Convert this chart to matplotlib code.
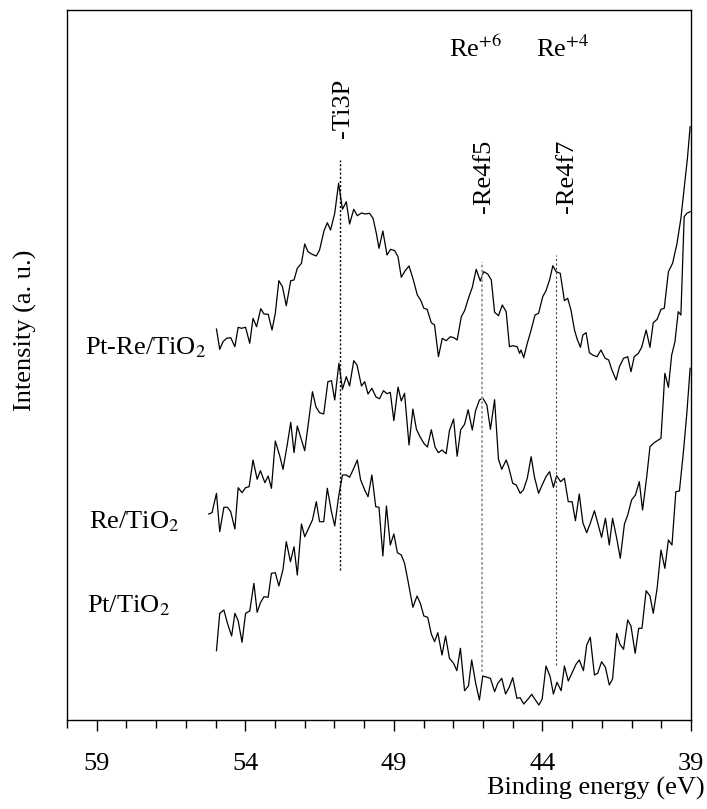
import matplotlib
matplotlib.use("Agg")
import matplotlib.pyplot as plt
from matplotlib.ticker import MultipleLocator, FixedLocator

plt.rcParams['font.family'] = ['Liberation Serif', 'DejaVu Serif']
plt.rcParams['mathtext.fontset'] = 'stix'

# ---------------- data (binding energy in eV, intensity in a.u.) ----------------
ptre_ev = [54.97, 54.86, 54.75, 54.63, 54.49, 54.35, 54.24, 54.13, 53.99, 53.85,
           53.74, 53.62, 53.48, 53.37, 53.23, 53.10, 52.99, 52.87, 52.75, 52.62,
           52.47, 52.36, 52.25, 52.11, 52.00, 51.89, 51.75, 51.61, 51.50, 51.35,
           51.24, 51.13, 50.99, 50.86, 50.73, 50.60, 50.49, 50.35, 50.23, 50.09,
           49.96, 49.82, 49.70, 49.59, 49.50, 49.37, 49.23, 49.11, 48.97, 48.86,
           48.75, 48.62, 48.49, 48.36, 48.21, 48.10, 47.99, 47.88, 47.74, 47.63,
           47.50, 47.37, 47.24, 47.10, 46.98, 46.87, 46.73, 46.62, 46.49, 46.36,
           46.23, 46.09, 45.98, 45.84, 45.72, 45.61, 45.48, 45.35, 45.22, 45.11,
           45.00, 44.85, 44.77, 44.72, 44.63, 44.51, 44.38, 44.25, 44.13, 43.99,
           43.88, 43.76, 43.65, 43.54, 43.40, 43.26, 43.15, 43.04, 42.92, 42.83,
           42.72, 42.64, 42.53, 42.42, 42.31, 42.16, 42.03, 41.89, 41.77, 41.67,
           41.52, 41.41, 41.27, 41.13, 41.02, 40.91, 40.77, 40.66, 40.51, 40.38,
           40.27, 40.14, 40.01, 39.90, 39.76, 39.62, 39.47, 39.34, 39.23, 39.12,
           39.03]
ptre_int = [391.0, 370.7, 378.3, 381.7, 382.3, 373.3, 392.7, 391.7, 392.7, 376.7,
            401.7, 393.3, 411.3, 406.0, 405.7, 390.0, 406.7, 439.3, 433.3, 414.3,
            439.3, 440.0, 451.7, 456.7, 476.0, 468.3, 465.7, 464.0, 470.0, 489.3,
            497.3, 490.0, 506.7, 536.7, 510.7, 518.3, 496.0, 510.7, 504.3, 507.0,
            506.0, 506.7, 501.7, 486.7, 471.7, 489.0, 465.0, 470.7, 469.3, 463.3,
            442.7, 449.3, 454.0, 441.7, 425.0, 420.0, 411.7, 410.7, 397.3, 395.0,
            363.3, 381.7, 379.3, 383.3, 382.3, 380.0, 403.3, 409.3, 421.7, 432.7,
            450.7, 439.0, 448.3, 446.0, 440.0, 407.7, 404.3, 415.0, 408.3, 373.3,
            374.3, 373.3, 366.7, 370.0, 362.3, 376.7, 390.0, 405.0, 406.7, 423.3,
            429.3, 440.0, 454.3, 448.3, 446.7, 419.3, 421.7, 410.0, 390.0, 380.7,
            372.7, 385.0, 387.3, 367.3, 365.0, 363.3, 370.0, 361.7, 360.0, 350.7,
            340.0, 353.3, 361.7, 363.3, 348.3, 363.3, 366.7, 372.7, 390.0, 372.7,
            397.3, 400.7, 410.7, 411.7, 448.3, 456.7, 476.7, 501.7, 531.7, 561.7,
            593.3]

re_ev = [55.23, 55.12, 54.97, 54.86, 54.72, 54.60, 54.49, 54.35, 54.24, 54.11,
         53.99, 53.87, 53.74, 53.60, 53.49, 53.34, 53.23, 53.12, 52.99, 52.84,
         52.73, 52.59, 52.47, 52.36, 52.25, 52.11, 52.00, 51.87, 51.74, 51.62,
         51.50, 51.36, 51.22, 51.10, 50.99, 50.85, 50.73, 50.60, 50.49, 50.35,
         50.24, 50.09, 49.98, 49.87, 49.74, 49.60, 49.48, 49.35, 49.23, 49.12,
         49.00, 48.86, 48.75, 48.64, 48.49, 48.36, 48.24, 48.11, 47.99, 47.87,
         47.74, 47.61, 47.50, 47.38, 47.24, 47.13, 46.99, 46.87, 46.75, 46.62,
         46.50, 46.36, 46.25, 46.12, 46.01, 45.87, 45.75, 45.61, 45.48, 45.37,
         45.22, 45.14, 45.00, 44.88, 44.75, 44.64, 44.51, 44.38, 44.27, 44.13,
         44.01, 43.88, 43.76, 43.63, 43.52, 43.39, 43.26, 43.13, 43.00, 42.89,
         42.76, 42.64, 42.51, 42.39, 42.25, 42.14, 42.01, 41.88, 41.75, 41.64,
         41.50, 41.38, 41.24, 41.13, 41.00, 40.87, 40.74, 40.63, 40.49, 40.38,
         40.24, 40.01, 39.88, 39.76, 39.65, 39.54, 39.43, 39.34, 39.23, 39.14,
         39.03]
re_int = [206.0, 207.3, 226.7, 188.3, 212.7, 212.7, 208.3, 191.0, 232.3, 227.3,
          232.3, 233.3, 260.0, 240.7, 249.3, 237.3, 244.0, 231.7, 279.0, 264.0,
          250.7, 275.0, 297.7, 267.3, 294.0, 280.0, 269.3, 298.3, 328.3, 313.0,
          307.3, 306.0, 338.3, 339.3, 320.0, 356.7, 330.7, 343.3, 334.0, 359.3,
          355.0, 334.0, 338.3, 326.0, 331.7, 323.0, 321.3, 329.3, 326.3, 327.7,
          299.3, 333.0, 319.0, 326.7, 275.0, 311.0, 290.7, 282.7, 276.7, 273.0,
          290.3, 272.7, 267.3, 270.0, 266.3, 289.3, 301.0, 263.7, 290.3, 295.7,
          310.3, 290.0, 309.3, 320.0, 322.0, 315.0, 290.7, 320.3, 261.0, 250.7,
          260.0, 253.3, 236.7, 235.0, 226.7, 230.0, 241.7, 263.3, 243.3, 226.7,
          235.0, 243.3, 248.3, 232.7, 244.3, 238.3, 241.7, 218.3, 218.3, 199.3,
          226.0, 197.3, 187.3, 196.7, 209.3, 197.3, 182.7, 201.7, 175.0, 201.7,
          181.7, 161.7, 196.0, 205.0, 220.0, 225.0, 238.3, 210.0, 243.3, 273.3,
          277.3, 281.7, 346.7, 332.7, 365.0, 378.3, 408.3, 405.0, 503.3, 506.7,
          508.3]

pt_ev = [54.97, 54.86, 54.72, 54.60, 54.46, 54.35, 54.24, 54.11, 53.99, 53.85,
         53.71, 53.60, 53.49, 53.37, 53.23, 53.12, 52.99, 52.87, 52.73, 52.62,
         52.48, 52.36, 52.25, 52.11, 52.00, 51.87, 51.74, 51.61, 51.50, 51.36,
         51.24, 51.10, 50.99, 50.86, 50.73, 50.60, 50.49, 50.35, 50.23, 50.12,
         49.98, 49.87, 49.74, 49.61, 49.50, 49.37, 49.25, 49.12, 49.00, 48.88,
         48.75, 48.64, 48.53, 48.36, 48.22, 48.11, 47.99, 47.86, 47.74, 47.63,
         47.52, 47.38, 47.26, 47.13, 46.99, 46.88, 46.76, 46.62, 46.49, 46.38,
         46.25, 46.12, 46.01, 45.87, 45.75, 45.61, 45.50, 45.37, 45.24, 45.11,
         45.00, 44.86, 44.75, 44.63, 44.49, 44.36, 44.25, 44.12, 44.01, 43.88,
         43.74, 43.63, 43.51, 43.37, 43.26, 43.13, 43.00, 42.87, 42.76, 42.62,
         42.51, 42.39, 42.25, 42.14, 42.01, 41.88, 41.75, 41.64, 41.50, 41.39,
         41.27, 41.13, 41.02, 40.88, 40.76, 40.65, 40.51, 40.38, 40.27, 40.14,
         40.01, 39.88, 39.76, 39.64, 39.51, 39.39, 39.26, 39.14, 39.03]
pt_int = [69.3, 106.7, 110.0, 96.7, 84.0, 106.7, 99.3, 77.7, 106.7, 109.0,
          136.7, 107.7, 117.3, 123.3, 122.7, 146.7, 147.3, 134.0, 150.7, 178.3,
          158.3, 173.3, 145.0, 196.0, 183.3, 191.7, 200.0, 218.3, 198.3, 198.3,
          231.7, 208.3, 194.0, 223.3, 245.0, 245.0, 242.7, 251.7, 260.0, 240.3,
          230.0, 223.3, 245.0, 213.3, 212.7, 164.0, 214.0, 175.0, 186.0, 167.3,
          165.0, 156.7, 140.0, 112.7, 124.0, 116.7, 104.0, 102.7, 86.0, 78.3,
          87.3, 65.0, 84.0, 61.7, 56.7, 49.3, 71.7, 29.3, 34.0, 60.0,
          37.3, 20.0, 44.0, 42.7, 41.7, 28.3, 36.7, 41.7, 26.0, 33.3,
          42.3, 21.7, 22.3, 16.0, 20.7, 25.7, 20.7, 15.0, 20.7, 54.0,
          43.3, 26.0, 37.7, 29.3, 54.0, 39.0, 47.3, 55.7, 60.0, 49.3,
          75.0, 82.7, 45.0, 46.7, 58.3, 52.7, 35.0, 41.0, 86.7, 75.7,
          70.7, 100.0, 94.0, 66.7, 91.7, 91.7, 129.3, 124.0, 106.7, 131.7,
          170.0, 151.7, 180.0, 175.0, 228.3, 229.0, 266.7, 306.7, 351.7]

sample_names = ['Pt-Re/TiO$_2$', 'Re/TiO$_2$', 'Pt/TiO$_2$']
sample_label_pos = [(59.40, 372), (59.26, 198), (59.33, 114)]

peak_names = ['-Ti3P', '-Re4f5', '-Re4f7']
peak_ev = [50.82, 46.05, 43.53]
peak_line_range = [(150, 560), (48, 458), (55, 465)]
peak_text_ev = [50.72, 45.98, 43.16]
peak_text_bottom = [582, 507, 507]
peak_line_styles = [dict(color='black', linestyle=(0, (1.5, 1.5)), lw=1.0),
                    dict(color='#9a9a9a', linestyle=(0, (1.5, 1.2)), lw=1.3),
                    dict(color='#444444', linestyle=(0, (2.0, 2.0)), lw=0.8)]

state_names = ['Re$^{+6}$', 'Re$^{+4}$']
state_ev = [47.13, 44.20]
state_y = 663

xticks_major = [59, 54, 49, 44, 39]

# ---------------- figure ----------------
fig = plt.figure(figsize=(7.07, 8.09), dpi=100)
ax = fig.add_axes([67/707, 1-720/809, 624/707, 710/809])

for ev, inten in [(ptre_ev, ptre_int), (re_ev, re_int), (pt_ev, pt_int)]:
    ax.plot(ev, inten, color='black', lw=0.9)

for ev, (y0, y1), st in zip(peak_ev, peak_line_range, peak_line_styles):
    ax.plot([ev, ev], [y0, y1], **st)

for name, tx, tb in zip(peak_names, peak_text_ev, peak_text_bottom):
    ax.text(tx, tb, name, rotation=90, ha='center', va='bottom', fontsize=19)

for name, tx in zip(state_names, state_ev):
    ax.text(tx, state_y, name, ha='left', va='baseline', fontsize=19)

for name, (tx, ty) in zip(sample_names, sample_label_pos):
    ax.text(tx, ty, name, ha='left', va='center', fontsize=19)

ax.set_xlim(60, 39)
ax.set_ylim(0, 710)
ax.xaxis.set_major_locator(FixedLocator(xticks_major))
ax.xaxis.set_minor_locator(MultipleLocator(1))
ax.tick_params(axis='x', which='major', direction='out', length=8, width=1,
               labelsize=19, pad=16)
ax.tick_params(axis='x', which='minor', direction='out', length=6, width=1)
ax.set_yticks([])
for sp in ax.spines.values():
    sp.set_linewidth(1.0)

fig.text(705/707, 1-795/809, 'Binding energy (eV)', ha='right', va='baseline',
         fontsize=19)
fig.text(25/707, 1-330/809, 'Intensity (a. u.)', rotation=90, ha='center',
         va='center', fontsize=19)

fig.savefig('out.png', dpi=100)
